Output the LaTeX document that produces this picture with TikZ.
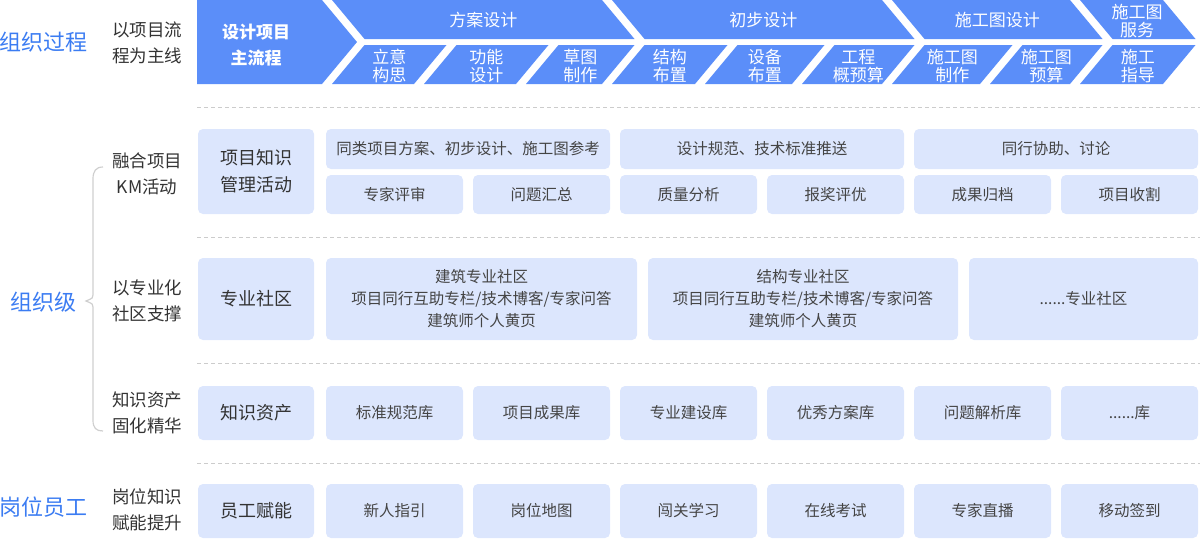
\documentclass[tikz,border=0pt]{standalone}
\usepackage{fontspec}
\setmainfont{Noto Sans CJK SC}
\definecolor{mainblue}{HTML}{5B8EF9}
\definecolor{lightblue}{HTML}{DCE6FD}
\definecolor{titleblue}{HTML}{3B7CF2}
\definecolor{darktext}{HTML}{333333}
\definecolor{celltext}{HTML}{444444}
\definecolor{dashgray}{HTML}{CCCCCC}
\definecolor{bracegray}{HTML}{CFCFCF}
\tikzset{
  chev/.style={fill=mainblue, draw=none},
  wt/.style={text=white, font=\fontsize{17}{18.5}\selectfont, align=center, inner sep=0pt},
  wtb/.style={wt, font=\fontsize{17}{26}\selectfont\bfseries},
  grouplbl/.style={text=titleblue, font=\fontsize{22}{26}\selectfont, inner sep=0pt},
  rowlbl/.style={text=darktext, font=\fontsize{17.5}{26}\selectfont, align=center, inner sep=0pt},
  sepline/.style={dashgray, line width=1pt, dash pattern=on 4pt off 3pt},
  brace/.style={bracegray, line width=1.2pt},
  cellbase/.style={fill=lightblue, draw=none, rounded corners=5pt, inner sep=0pt, align=center},
  headcell/.style={cellbase, text=darktext, font=\fontsize{18}{27}\selectfont},
  cell/.style={cellbase, text=celltext, font=\fontsize{15.5}{22}\selectfont},
}
\newcommand\lowpc[4]{%
  \fill[chev] (#2,84)--(#3,84)--({#3+32.5},45)--({#2+32.5},45)--cycle;
  \node[wt] (#1) at ({(#2+#3)/2+16.25},66) {#4};}
\newcommand\uppc[4]{%
  \fill[chev] (#2,0)--(#3,0)--({#3+32.5},39)--({#2+32.5},39)--cycle;
  \node[wt] (#1) at ({(#2+#3)/2+16.25},20) {#4};}
\newcommand\cbox[7]{% style, name, x1, y1, x2, y2, text
  \node[#1, minimum width={(#5-#3)*1pt}, minimum height={(#6-#4)*1pt}]
    (#2) at ({(#3+#5)/2},{(#4+#6)/2}) {#7};}
\begin{document}
\begin{tikzpicture}[x=1pt,y=-1pt]
\useasboundingbox (0,0) rectangle (1200,539);
% ---------- process strip ----------
\fill[chev] (197,0)--(322,0)--(357,42)--(322,84)--(197,84)--cycle;
\node[wtb] (mainflow) at (256,45) {设计项目\\主流程};
\uppc{fangan}{332}{602}{方案设计}
\uppc{chubu}{612}{882}{初步设计}
\uppc{shigong}{892}{1070}{施工图设计}
\fill[chev] (1080,0)--(1163,0)--(1195.5,39)--(1112.5,39)--cycle;
\node[wt] (fuwu) at (1137,21) {施工图\\服务};
\lowpc{liyi}{332}{414}{立意\\构思}
\lowpc{gongneng}{424}{516}{功能\\设计}
\lowpc{caotu}{526}{602}{草图\\制作}
\lowpc{jiegou}{612}{695}{结构\\布置}
\lowpc{shebei}{705}{792}{设备\\布置}
\lowpc{gaiyusuan}{802}{882}{工程\\概预算}
\lowpc{sgzhizuo}{892}{980}{施工图\\制作}
\lowpc{sgyusuan}{990}{1070}{施工图\\预算}
\lowpc{zhidao}{1080}{1163}{施工\\指导}
% ---------- left labels ----------
\node[grouplbl] (g1) at (43,42) {组织过程};
\node[grouplbl] (g2) at (43,302) {组织级};
\node[grouplbl] (g3) at (43,507) {岗位员工};
\node[rowlbl] (r0) at (147,43) {以项目流\\程为主线};
\node[rowlbl] (r1) at (147,173.5) {融合项目\\KM活动};
\node[rowlbl] (r2) at (147,300.5) {以专业化\\社区支撑};
\node[rowlbl] (r3) at (147,412.5) {知识资产\\固化精华};
\node[rowlbl] (r4) at (147,510) {岗位知识\\赋能提升};
% brace
\coordinate (bt) at (103,167);
\coordinate (bm) at (86,301);
\coordinate (bb) at (103,431);
\draw[brace] (bt) .. controls (96,167) and (93,171) .. (93,179) -- (93,295)
  .. controls (93,298) .. (bm) .. controls (93,304) .. (93,307) -- (93,420)
  .. controls (93,428) and (96,431) .. (bb);
% ---------- separators ----------
\coordinate (s1a) at (197,107); \coordinate (s1b) at (1200,107);
\coordinate (s2a) at (197,237); \coordinate (s2b) at (1200,237);
\coordinate (s3a) at (197,363); \coordinate (s3b) at (1200,363);
\coordinate (s4a) at (197,463); \coordinate (s4b) at (1200,463);
\draw[sepline] (s1a) -- (s1b);
\draw[sepline] (s2a) -- (s2b);
\draw[sepline] (s3a) -- (s3b);
\draw[sepline] (s4a) -- (s4b);
% ---------- row 1 : KM ----------
\cbox{headcell}{h1}{198}{129}{314}{214}{项目知识\\管理活动}
\cbox{cell}{k1}{326}{129}{610}{169}{同类项目方案、初步设计、施工图参考}
\cbox{cell}{k2}{620}{129}{904}{169}{设计规范、技术标准推送}
\cbox{cell}{k3}{914}{129}{1198}{169}{同行协助、讨论}
\cbox{cell}{k4}{326}{175}{463}{214}{专家评审}
\cbox{cell}{k5}{473}{175}{610}{214}{问题汇总}
\cbox{cell}{k6}{620}{175}{757}{214}{质量分析}
\cbox{cell}{k7}{767}{175}{904}{214}{报奖评优}
\cbox{cell}{k8}{914}{175}{1051}{214}{成果归档}
\cbox{cell}{k9}{1061}{175}{1198}{214}{项目收割}
% ---------- row 2 : community ----------
\cbox{headcell}{h2}{198}{258}{314}{340}{专业社区}
\cbox{cell}{c1}{326}{258}{637}{340}{建筑专业社区\\项目同行互助专栏/技术博客/专家问答\\建筑师个人黄页}
\cbox{cell}{c2}{648}{258}{958}{340}{结构专业社区\\项目同行互助专栏/技术博客/专家问答\\建筑师个人黄页}
\cbox{cell}{c3}{969}{258}{1198}{340}{......专业社区}
% ---------- row 3 : assets ----------
\cbox{headcell}{h3}{198}{386}{314}{440}{知识资产}
\cbox{cell}{a1}{326}{386}{463}{440}{标准规范库}
\cbox{cell}{a2}{473}{386}{610}{440}{项目成果库}
\cbox{cell}{a3}{620}{386}{757}{440}{专业建设库}
\cbox{cell}{a4}{767}{386}{904}{440}{优秀方案库}
\cbox{cell}{a5}{914}{386}{1051}{440}{问题解析库}
\cbox{cell}{a6}{1061}{386}{1198}{440}{......库}
% ---------- row 4 : staff ----------
\cbox{headcell}{h4}{198}{484}{314}{538}{员工赋能}
\cbox{cell}{e1}{326}{484}{463}{538}{新人指引}
\cbox{cell}{e2}{473}{484}{610}{538}{岗位地图}
\cbox{cell}{e3}{620}{484}{757}{538}{闯关学习}
\cbox{cell}{e4}{767}{484}{904}{538}{在线考试}
\cbox{cell}{e5}{914}{484}{1051}{538}{专家直播}
\cbox{cell}{e6}{1061}{484}{1198}{538}{移动签到}
\end{tikzpicture}
\end{document}
